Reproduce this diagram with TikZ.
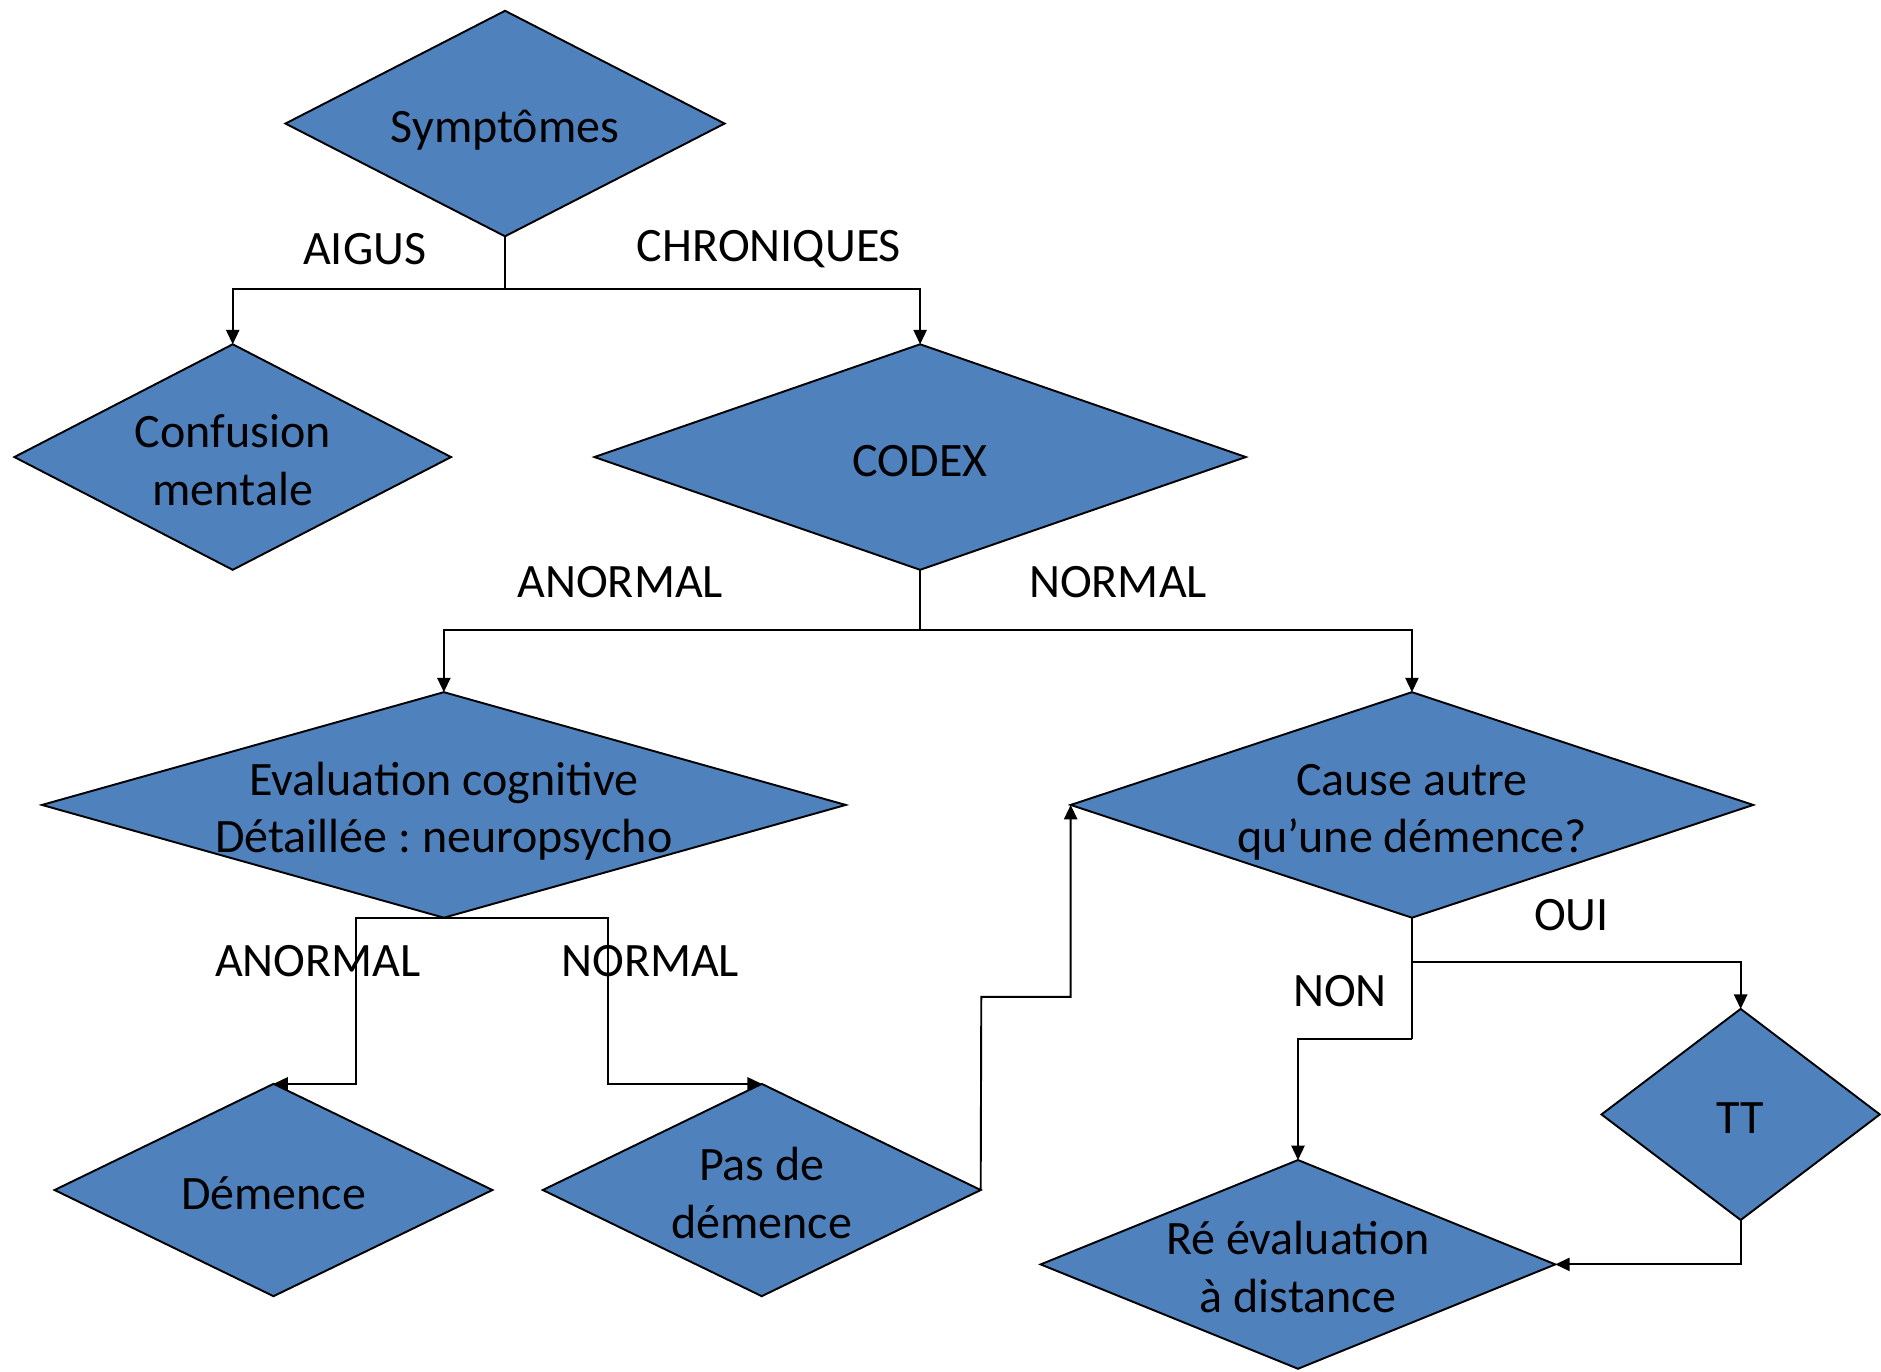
\documentclass[tikz,border=0pt]{standalone}
\usepackage{fontspec}
\setmainfont{Carlito}
\usetikzlibrary{shapes.geometric,arrows.meta}
\definecolor{boxblue}{RGB}{79,129,189}
\frenchspacing
% centred multi-line text that does not widen its diamond;
% the extra top room sets the lines a little below the centre
\newcommand\ml[1]{\makebox[0pt]{\raisebox{0pt}[\dimexpr\height+6.4pt\relax]{\begin{tabular}{@{}c@{}}#1\end{tabular}}}}

\begin{document}
\begin{tikzpicture}[x=0.5pt,y=-0.5pt,
  font=\fontsize{20}{24}\selectfont,
  dia/.style={diamond, draw=black, fill=boxblue, line width=0.8pt,
              inner sep=0pt, outer sep=0pt},
  lab/.style={inner sep=0pt},
  link/.style={line width=0.8pt, draw=black},
  arr/.style={link, -{Triangle[length=6pt,width=5.5pt]}}]

\useasboundingbox (0,0) rectangle (1568,1143);

% decision diamonds
\node[dia, minimum width=183pt,   minimum height=94pt]   (sym)    at (421,103)  {\ml{Symptômes}};
\node[dia, minimum width=182pt,   minimum height=94pt]   (conf)   at (194,381)  {\ml{Confusion\\mentale}};
\node[dia, minimum width=271.5pt, minimum height=94pt]   (codex)  at (767,381)  {\ml{CODEX}};
\node[dia, minimum width=335pt,   minimum height=94pt]   (eval)   at (370,671)  {\ml{Evaluation cognitive\\Détaillée : neuropsycho}};
\node[dia, minimum width=284.5pt, minimum height=94pt]   (cause)  at (1177,671) {\ml{Cause autre\\qu’une démence?}};
\node[dia, minimum width=182.5pt, minimum height=88.5pt] (dem)    at (228,992)  {\ml{Démence}};
\node[dia, minimum width=182.5pt, minimum height=88.5pt] (pas)    at (635,992)  {\ml{Pas de\\démence}};
\node[dia, minimum width=116pt,   minimum height=88pt]   (tt)     at (1451,929) {\ml{TT}};
\node[dia, minimum width=214.5pt, minimum height=87pt]   (reeval) at (1082,1054){\ml{Ré évaluation\\à distance}};

% branch points
\coordinate (j1) at (421,241);
\coordinate (j2) at (767,525);
\coordinate (j3l) at (297,765);
\coordinate (j3r) at (507,765);
\coordinate (j4) at (1177,802);
\coordinate (j5) at (1177,866);
\coordinate (j6) at (818,831);

% connectors
\draw[link] (sym.south) -- (j1);
\draw[arr] (j1) -| (conf.north);
\draw[arr] (j1) -| (codex.north);

\draw[link] (codex.south) -- (j2);
\draw[arr] (j2) -| (eval.north);
\draw[arr] (j2) -| (cause.north);

\draw[arr] (eval.south) -- (j3l) |- (dem.north);
\draw[arr] (eval.south) -- (j3r) |- (pas.north);

\draw[arr] (pas.east) -- (j6) -| (cause.west);

\draw[link] (cause.south) -- (j4);
\draw[arr] (j4) -| (tt.north);
\draw[link] (j4) -- (j5);
\draw[arr] (j5) -| (reeval.north);

\draw[arr] (tt.south) |- (reeval.east);

% branch labels
\node[lab] (lAigus)  at (304,208)  {AIGUS};
\node[lab] (lChron)  at (641,208)  {CHRONIQUES};
\node[lab] (lAnorm1) at (517,485)  {ANORMAL};
\node[lab] (lNorm1)  at (932,485)  {NORMAL};
\node[lab] (lAnorm2) at (265,801)  {ANORMAL};
\node[lab] (lNorm2)  at (542,801)  {NORMAL};
\node[lab] (lOui)    at (1310,763) {OUI};
\node[lab] (lNon)    at (1117,826) {NON};

\end{tikzpicture}
\end{document}
